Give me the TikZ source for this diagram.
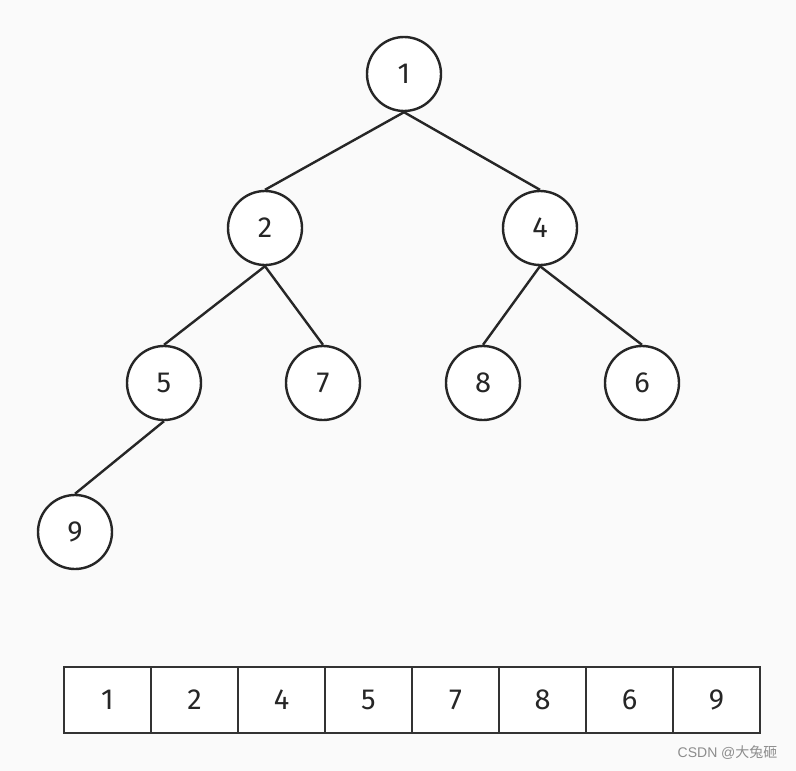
\documentclass[tikz,border=0pt]{standalone}
\usepackage{fontspec}
\setmainfont{Fira Sans}
\newfontfamily\cjk{Noto Sans CJK SC}
\newfontfamily\wmfont{Liberation Sans}
\begin{document}
\begin{tikzpicture}[x=1pt,y=-1pt,
  tnode/.style={circle,draw=black!85,line width=2.4pt,fill=white,minimum size=74pt,inner sep=0pt,font=\fontsize{29}{29}\selectfont,text=black!85},
  edge/.style={draw=black!85,line width=2.4pt},
  cell/.style={rectangle,draw=black!80,line width=2.8pt,fill=white,minimum width=87pt,minimum height=66pt,inner sep=0pt,font=\fontsize{29}{29}\selectfont,text=black!85}]
\fill[black!2] (0,0) rectangle (796,771);
\useasboundingbox (0,0) rectangle (796,771);
\node[tnode] (n1) at (404,74) {1};
\node[tnode] (n2) at (265,228) {2};
\node[tnode] (n4) at (540,228) {4};
\node[tnode] (n5) at (164,383) {5};
\node[tnode] (n7) at (323,383) {7};
\node[tnode] (n8) at (483,383) {8};
\node[tnode] (n6) at (642,383) {6};
\node[tnode] (n9) at (75,532) {9};
\draw[edge] (n1.south) -- (n2.north);
\draw[edge] (n1.south) -- (n4.north);
\draw[edge] (n2.south) -- (n5.north);
\draw[edge] (n2.south) -- (n7.north);
\draw[edge] (n4.south) -- (n8.north);
\draw[edge] (n4.south) -- (n6.north);
\draw[edge] (n5.south) -- (n9.north);
\foreach \v [count=\i from 0] in {1,2,4,5,7,8,6,9} {
  \node[cell] (c\i) at ({107.5+87*\i},700) {\v};
}
\node[anchor=east,text=black!45,font=\wmfont\fontsize{14}{14}\selectfont] (wm) at (781,753) {CSDN @{\cjk 大兔砸}};
\end{tikzpicture}
\end{document}
